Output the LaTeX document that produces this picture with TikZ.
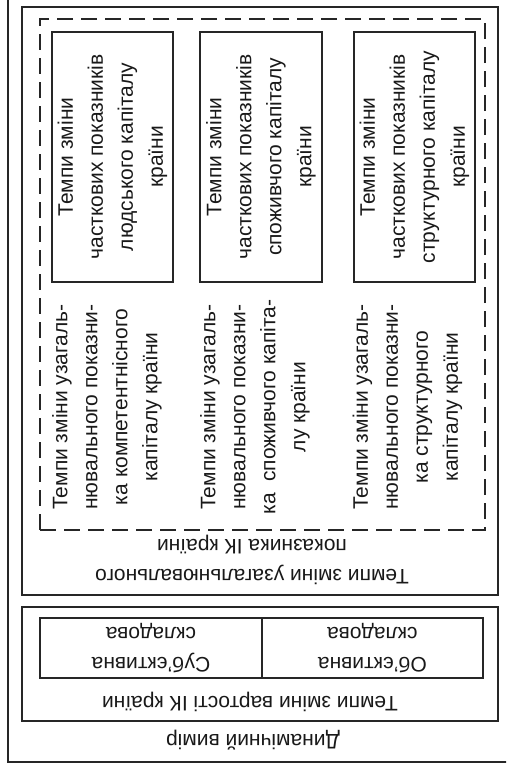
\documentclass[tikz,border=0pt]{standalone}
\usepackage{fontspec}
\setmainfont{Liberation Sans}
\begin{document}
\begin{tikzpicture}[x=1pt,y=-1pt,
  frame/.style={draw=black!85, line width=2pt, inner sep=0pt},
  dashframe/.style={draw=black!85, line width=2pt, dash pattern=on 16pt off 8pt, inner sep=0pt},
  lbl/.style={font=\fontsize{21}{30}\selectfont, align=center, inner sep=0pt, text=black!90},
  boxlbl/.style={frame, lbl, inner sep=0pt}
]
\useasboundingbox (0,0) rectangle (506,763);
\clip (0,0) rectangle (506,763);

% outer frame (runs past the top and right edges)
\node[frame, minimum width=508pt, minimum height=772pt] (outer) at (262,376) {};

% upper block: generalised indicator
\node[frame, minimum width=476pt, minimum height=588pt] (gen) at (260,301) {};
\node[dashframe, minimum width=445pt, minimum height=511pt] (dash) at (262.5,274.5) {};

% partial indicator boxes
\node[boxlbl, rotate=90, minimum width=250pt, minimum height=121pt] (p1) at (112.5,157)
  {Темпи зміни\\часткових показників\\людського капіталу\\країни};
\node[boxlbl, rotate=90, minimum width=250pt, minimum height=122pt] (p2) at (261,157)
  {Темпи зміни\\часткових показників\\споживчого капіталу\\країни};
\node[boxlbl, rotate=90, minimum width=250pt, minimum height=121pt] (p3) at (414.5,157)
  {Темпи зміни\\часткових показників\\структурного капіталу\\країни};

% generalised indicators of each capital
\node[lbl, rotate=90] (g1) at (107,407)
  {Темпи зміни узагаль-\\нювального показни-\\ка компетентнісного\\капіталу країни};
\node[lbl, rotate=90] (g2) at (255,407)
  {Темпи зміни узагаль-\\нювального показни-\\ка\ \ споживчого капіта-\\лу країни};
\node[lbl, rotate=90] (g3) at (407.5,407)
  {Темпи зміни узагаль-\\нювального показни-\\ка структурного\\капіталу країни};

\node[lbl, rotate=180] (genlbl) at (252,560)
  {Темпи зміни узагальнювального\\показника ІК країни};

% lower block: value of IC
\node[frame, minimum width=476pt, minimum height=114pt] (val) at (260,664) {};
\node[boxlbl, rotate=180, minimum width=222pt, minimum height=60pt] (subj) at (151,648)
  {Суб’єктивна\\складова};
\node[boxlbl, rotate=180, minimum width=221pt, minimum height=60pt] (obj) at (372.5,648)
  {Об’єктивна\\складова};
\node[lbl, rotate=180] (vallbl) at (250,702) {Темпи зміни вартості ІК країни};

\node[lbl, rotate=180] (dyn) at (253,740) {Динамічний вимір};
\end{tikzpicture}
\end{document}
